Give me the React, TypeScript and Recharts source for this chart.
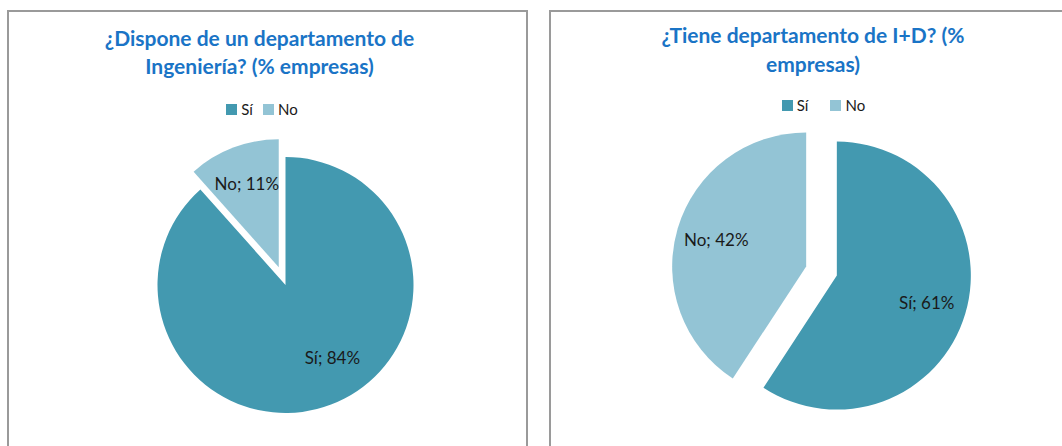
import { PieChart, Pie, Cell } from 'recharts'

const CATEGORIES = ['Sí', 'No']
const INGENIERIA = [84, 11]
const I_MAS_D = [61, 42]
const COLORS = ['#4399b0', '#93c4d5']

const FONT = 'Lato, "Open Sans", sans-serif'
const TITLE_COLOR = '#1a74c6'
const RADIAN = Math.PI / 180

// offset of an exploded slice, along its bisector (slices run clockwise from 12 o'clock)
function sliceOffset(values: number[], index: number, dist: number) {
  const total = values.reduce((a, b) => a + b, 0)
  const before = values.slice(0, index).reduce((a, b) => a + b, 0)
  const mid = ((before + values[index] / 2) / total) * 2 * Math.PI
  return { dx: Math.sin(mid) * dist, dy: -Math.cos(mid) * dist }
}

interface PanelProps {
  title: string[]
  values: number[]
  left: number
  top: number
  cx: number
  cy: number
  radius: number
  explode: number[]
  titleTop: number
  titleCenter: number
  lineHeight: number
  legendTop: number
  legendCenter: number
  legendGap: number
  nudge?: { dx: number; dy: number }[]
}

function Panel(p: PanelProps) {
  const data = CATEGORIES.map((name, i) => ({ name, value: p.values[i] }))
  const W = 521

  return (
    <>
      <div
        style={{
          position: 'absolute',
          left: p.left,
          top: p.top,
          width: W - 4,
          height: 480,
          border: '2px solid #9a9a9a',
          background: '#fff',
        }}
      />
      <div
        style={{
          position: 'absolute',
          left: p.left + p.titleCenter - 200,
          top: p.top + p.titleTop,
          width: 400,
          textAlign: 'center',
          fontFamily: FONT,
          fontWeight: 700,
          fontSize: 21,
          lineHeight: `${p.lineHeight}px`,
          color: TITLE_COLOR,
        }}
      >
        {p.title.map((t) => (
          <div key={t}>{t}</div>
        ))}
      </div>
      <div
        style={{
          position: 'absolute',
          left: p.left + p.legendCenter - 100,
          top: p.top + p.legendTop,
          width: 200,
          display: 'flex',
          justifyContent: 'center',
          alignItems: 'center',
          gap: p.legendGap,
          fontFamily: FONT,
          fontSize: 15,
          color: '#1a1a1a',
        }}
      >
        {CATEGORIES.map((c, i) => (
          <div key={c} style={{ display: 'flex', alignItems: 'center', gap: 4 }}>
            <span style={{ width: 11, height: 11, background: COLORS[i], display: 'inline-block' }} />
            <span>{c}</span>
          </div>
        ))}
      </div>
      <div style={{ position: 'absolute', left: p.left, top: p.top }}>
        <PieChart width={W} height={436} margin={{ top: 0, right: 0, bottom: 0, left: 0 }}>
          {CATEGORIES.map((_, k) => {
            const off = sliceOffset(p.values, k, p.explode[k])
            return (
              <Pie
                key={k}
                data={data}
                dataKey="value"
                nameKey="name"
                cx={p.cx + off.dx}
                cy={p.cy + off.dy}
                outerRadius={p.radius}
                startAngle={90}
                endAngle={-270}
                stroke="none"
                labelLine={false}
                isAnimationActive={false}
                label={(props: any) => {
                  if (props.index !== k) return null
                  const r = props.outerRadius * 0.7
                  const n = p.nudge?.[k] ?? { dx: 0, dy: 0 }
                  const x = props.cx + r * Math.cos(-props.midAngle * RADIAN) + n.dx
                  const y = props.cy + r * Math.sin(-props.midAngle * RADIAN) + n.dy
                  return (
                    <text
                      x={x}
                      y={y}
                      textAnchor="middle"
                      dominantBaseline="central"
                      fontFamily={FONT}
                      fontSize={17}
                      fill="#1a1a1a"
                    >
                      {`${props.name}; ${props.value}%`}
                    </text>
                  )
                }}
              >
                {data.map((d, i) => (
                  <Cell key={d.name} fill={i === k ? COLORS[i] : 'transparent'} stroke="none" />
                ))}
              </Pie>
            )
          })}
        </PieChart>
      </div>
    </>
  )
}

export default function App() {
  return (
    <div style={{ position: 'relative', width: 1062, height: 446, overflow: 'hidden', background: '#fff' }}>
      <style>{'body{margin:0}'}</style>
      <Panel
        title={['¿Dispone de un departamento de', 'Ingeniería? (% empresas)']}
        values={INGENIERIA}
        left={7}
        top={10}
        cx={278.5}
        cy={275}
        radius={128}
        explode={[0, 19]}
        titleTop={14}
        titleCenter={252.5}
        lineHeight={28}
        legendTop={90}
        legendCenter={255}
        legendGap={10}
        nudge={[{ dx: 15, dy: -11 }, { dx: 0, dy: 0 }]}
      />
      <Panel
        title={['¿Tiene departamento de I+D? (%', 'empresas)']}
        values={I_MAS_D}
        left={549}
        top={10}
        cx={272.5}
        cy={261}
        radius={134}
        explode={[16, 16]}
        titleTop={9.5}
        titleCenter={264}
        lineHeight={29}
        legendTop={86}
        legendCenter={274.5}
        legendGap={22}
      />
    </div>
  )
}
